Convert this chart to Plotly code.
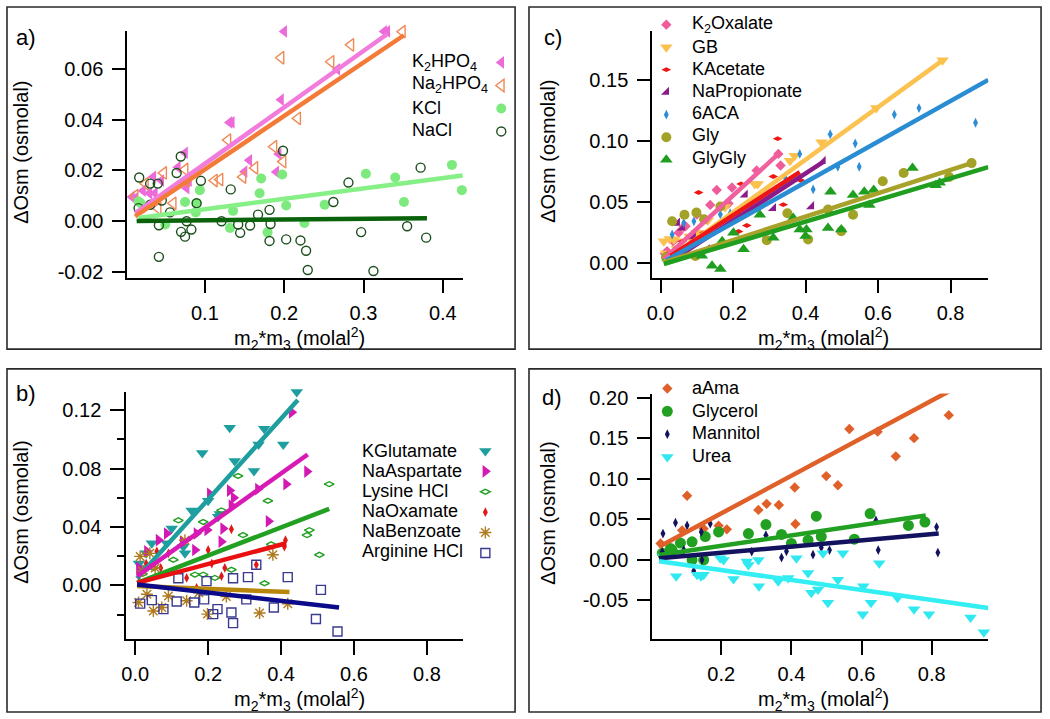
import plotly.graph_objects as go

W, H = 1050, 719
FONT = "Liberation Sans, Arial, Helvetica, sans-serif"

# ---------------- Panel a data ----------------
K2HPO4_x = [0.008, 0.012, 0.022, 0.030, 0.035, 0.037, 0.045, 0.066, 0.075, 0.077, 0.080, 0.131, 0.134, 0.150, 0.156, 0.190, 0.193, 0.196, 0.200, 0.267, 0.326, 0.330]
K2HPO4_y = [0.0095, 0.009, 0.012, 0.011, 0.0175, 0.011, 0.016, 0.0213, 0.027, 0.013, 0.016, 0.039, 0.039, 0.0195, 0.024, 0.0194, 0.0265, 0.048, 0.075, 0.060, 0.075, 0.075]
Na2HPO4_x = [0.012, 0.025, 0.041, 0.048, 0.060, 0.075, 0.077, 0.112, 0.119, 0.129, 0.148, 0.163, 0.187, 0.1985, 0.196, 0.217, 0.259, 0.284, 0.349]
Na2HPO4_y = [0.010, 0.0148, 0.005, 0.019, 0.007, 0.0204, 0.016, 0.016, 0.0164, 0.032, 0.0174, 0.021, 0.0294, 0.0235, 0.0646, 0.0406, 0.063, 0.0697, 0.0749]
KCl_x = [0.0164, 0.019, 0.050, 0.075, 0.0885, 0.0896, 0.0937, 0.1317, 0.1355, 0.169, 0.171, 0.179, 0.1975, 0.2025, 0.2255, 0.251, 0.303, 0.340, 0.351, 0.4115, 0.424]
KCl_y = [0.0077, 0.007, -0.0014, 0.0075, 0.0034, 0.007, 0.0122, -0.0028, 0.0040, 0.011, 0.0168, -0.0045, 0.0184, 0.0061, -0.0008, 0.0064, 0.0187, 0.0172, 0.0075, 0.0222, 0.0122]
NaCl_x = [0.0164, 0.0172, 0.031, 0.031, 0.0406, 0.042, 0.042, 0.0457, 0.056, 0.0644, 0.0696, 0.070, 0.075, 0.077, 0.083, 0.0896, 0.095, 0.121, 0.1326, 0.142, 0.1445, 0.157, 0.167, 0.1815, 0.1815, 0.1828, 0.1985, 0.2025, 0.2205, 0.2276, 0.2297, 0.262, 0.281, 0.297, 0.3125, 0.355, 0.372, 0.379]
NaCl_y = [0.0051, 0.0172, 0.0148, 0.0064, 0.0148, -0.0017, -0.0142, 0.0081, 0.0034, 0.019, 0.0255, -0.0043, -0.0062, -0.0001, -0.0034, 0.007, 0.0159, -0.0001, 0.0125, -0.0014, -0.0047, -0.0018, 0.0025, 0.0044, -0.0079, -0.0012, 0.0278, -0.0073, -0.0077, -0.0118, -0.0194, 0.0075, 0.0152, -0.0044, -0.0198, -0.0021, 0.0211, -0.0066]
K2HPO4_fit_x = [0.012, 0.330]
K2HPO4_fit_y = [0.003, 0.074]
Na2HPO4_fit_x = [0.012, 0.351]
Na2HPO4_fit_y = [0.0018, 0.0735]
KCl_fit_x = [0.016, 0.425]
KCl_fit_y = [0.0012, 0.018]
NaCl_fit_x = [0.014, 0.380]
NaCl_fit_y = [0.0, 0.0011]

# ---------------- Panel c data ----------------
K2Oxalate_x = [0.012, 0.018, 0.035, 0.050, 0.064, 0.069, 0.100, 0.137, 0.155, 0.1875, 0.197, 0.265, 0.325, 0.331]
K2Oxalate_y = [0.008, 0.010, 0.018, 0.025, 0.030, 0.0304, 0.040, 0.0478, 0.060, 0.049, 0.062, 0.076, 0.0895, 0.080]
GB_x = [0.009, 0.015, 0.025, 0.037, 0.045, 0.060, 0.080, 0.100, 0.130, 0.178, 0.215, 0.260, 0.268, 0.357, 0.370, 0.444, 0.595, 0.778]
GB_y = [0.018, 0.008, 0.020, 0.0196, 0.012, 0.018, 0.022, 0.025, 0.035, 0.046, 0.0385, 0.065, 0.065, 0.084, 0.088, 0.099, 0.127, 0.166]
KAcetate_x = [0.020, 0.060, 0.105, 0.120, 0.174, 0.215, 0.222, 0.238, 0.311, 0.323, 0.3385, 0.386]
KAcetate_y = [0.008, 0.018, 0.058, 0.025, 0.017, 0.026, 0.065, 0.031, 0.071, 0.102, 0.048, 0.068]
NaPropionate_x = [0.030, 0.046, 0.060, 0.090, 0.128, 0.233, 0.311, 0.416, 0.448]
NaPropionate_y = [0.008, 0.033, 0.029, 0.022, 0.0115, 0.056, 0.045, 0.0465, 0.0835]
ACA_x = [0.020, 0.032, 0.064, 0.092, 0.120, 0.165, 0.192, 0.343, 0.384, 0.421, 0.468, 0.489, 0.537, 0.548, 0.645, 0.713, 0.869]
ACA_y = [0.005, 0.0236, 0.033, 0.0344, 0.036, 0.040, 0.041, 0.0707, 0.0895, 0.0605, 0.1056, 0.079, 0.098, 0.079, 0.1217, 0.127, 0.115]
Gly_x = [0.015, 0.032, 0.066, 0.096, 0.099, 0.120, 0.165, 0.293, 0.350, 0.407, 0.462, 0.4985, 0.531, 0.613, 0.6705, 0.796, 0.858]
Gly_y = [0.005, 0.0344, 0.0397, 0.006, 0.0416, 0.036, 0.0465, 0.019, 0.041, 0.0196, 0.044, 0.0263, 0.0397, 0.0671, 0.0739, 0.0707, 0.082]
GlyGly_x = [0.020, 0.060, 0.114, 0.142, 0.165, 0.170, 0.201, 0.229, 0.274, 0.311, 0.366, 0.384, 0.400, 0.4025, 0.462, 0.469, 0.4985, 0.531, 0.562, 0.576, 0.588, 0.695, 0.759, 0.770]
GlyGly_y = [0.004, 0.010, 0.0062, -0.0019, -0.0046, 0.018, 0.025, 0.0115, 0.0397, 0.021, 0.037, 0.0277, 0.0223, 0.0277, 0.029, 0.0585, 0.0277, 0.056, 0.0586, 0.0478, 0.060, 0.078, 0.0639, 0.066]
K2Oxalate_fit_x = [0.009, 0.325]
K2Oxalate_fit_y = [0.0035, 0.0895]
GB_fit_x = [0.009, 0.778]
GB_fit_y = [0.0008, 0.166]
KAcetate_fit_x = [0.027, 0.384]
KAcetate_fit_y = [0.006, 0.0747]
NaPropionate_fit_x = [0.037, 0.448]
NaPropionate_fit_y = [0.0035, 0.0828]
ACA_fit_x = [0.014, 0.904]
ACA_fit_y = [0.0022, 0.150]
Gly_fit_x = [0.009, 0.858]
Gly_fit_y = [0.0008, 0.082]
GlyGly_fit_x = [0.009, 0.904]
GlyGly_fit_y = [-0.0005, 0.0787]

# ---------------- Panel b data ----------------
KGlutamate_x = [0.010, 0.020, 0.030, 0.0455, 0.0864, 0.100, 0.1319, 0.1364, 0.1547, 0.1837, 0.200, 0.2274, 0.2319, 0.2592, 0.2729, 0.3256, 0.3383, 0.3538, 0.406, 0.443]
KGlutamate_y = [0.015, 0.012, 0.022, 0.029, 0.0289, 0.039, 0.0266, 0.022, 0.0514, 0.0908, 0.058, 0.047, 0.049, 0.108, 0.0852, 0.0784, 0.0965, 0.1073, 0.0965, 0.1325]
NaAspartate_x = [0.010, 0.032, 0.064, 0.0864, 0.130, 0.1637, 0.168, 0.1974, 0.2046, 0.236, 0.241, 0.2592, 0.2638, 0.270, 0.3365, 0.3656, 0.4138, 0.4292, 0.4711]
NaAspartate_y = [0.012, 0.0233, 0.031, 0.0356, 0.030, 0.0243, 0.0356, 0.038, 0.0627, 0.030, 0.039, 0.065, 0.0547, 0.060, 0.066, 0.044, 0.0694, 0.1186, 0.078]
Lysine_x = [0.020, 0.050, 0.0728, 0.1046, 0.1182, 0.1637, 0.1864, 0.1864, 0.2183, 0.2365, 0.2638, 0.2819, 0.2956, 0.3547, 0.3638, 0.3729, 0.4711, 0.4775, 0.505, 0.532]
Lysine_y = [0.008, 0.012, 0.0074, 0.0176, 0.0446, 0.0074, 0.0074, 0.0435, 0.0052, 0.0514, 0.0108, 0.075, 0.0345, 0.0015, 0.058, 0.0282, 0.0345, 0.0379, 0.021, 0.0694]
NaOxamate_x = [0.010, 0.030, 0.0592, 0.070, 0.091, 0.141, 0.1683, 0.200, 0.210, 0.2365, 0.2456, 0.2638, 0.332, 0.4092, 0.412]
NaOxamate_y = [0.006, 0.015, 0.0233, 0.012, 0.022, 0.0052, -0.0016, 0.0243, 0.015, 0.0064, 0.012, 0.0385, 0.0142, 0.0266, 0.031]
NaBenzoate_x = [0.009, 0.0136, 0.020, 0.032, 0.040, 0.0496, 0.0546, 0.0728, 0.091, 0.1364, 0.141, 0.1746, 0.198, 0.250, 0.341, 0.3774, 0.4183]
NaBenzoate_y = [-0.0117, 0.0199, 0.010, -0.006, 0.022, -0.0175, 0.012, -0.0151, -0.0072, 0.031, -0.0105, -0.005, -0.0196, -0.0075, -0.0188, 0.021, -0.0125]
Arginine_x = [0.0136, 0.0455, 0.0773, 0.1137, 0.1182, 0.1619, 0.189, 0.1955, 0.2138, 0.2256, 0.2638, 0.2683, 0.2683, 0.3046, 0.3092, 0.332, 0.3802, 0.4183, 0.4956, 0.5093, 0.5548]
Arginine_y = [-0.0124, -0.010, -0.0162, -0.011, 0.005, -0.0117, -0.0095, 0.003, -0.0196, -0.0162, -0.0185, -0.0258, 0.005, -0.0095, 0.0057, 0.0142, -0.0151, 0.0057, -0.023, -0.003, -0.0315]
KGlutamate_fit_x = [0.005, 0.446]
KGlutamate_fit_y = [0.005, 0.127]
NaAspartate_fit_x = [0.005, 0.473]
NaAspartate_fit_y = [0.0064, 0.0897]
Lysine_fit_x = [0.005, 0.532]
Lysine_fit_y = [0.0018, 0.0525]
NaOxamate_fit_x = [0.005, 0.414]
NaOxamate_fit_y = [0.0018, 0.0289]
NaBenzoate_fit_x = [0.005, 0.423]
NaBenzoate_fit_y = [-0.0004, -0.0045]
Arginine_fit_x = [0.005, 0.559]
Arginine_fit_y = [0.0007, -0.0151]

# ---------------- Panel d data ----------------
aAma_x = [0.0272, 0.0887, 0.1028, 0.150, 0.1926, 0.2161, 0.306, 0.3295, 0.3643, 0.4096, 0.4116, 0.4994, 0.5326, 0.5654, 0.6459, 0.6977, 0.7496, 0.8487]
aAma_y = [0.0199, 0.0362, 0.079, 0.0383, 0.042, 0.0374, 0.0615, 0.069, 0.0676, 0.0892, 0.044, 0.1034, 0.092, 0.1617, 0.1585, 0.1279, 0.1504, 0.1789]
Glycerol_x = [0.032, 0.0555, 0.0603, 0.0839, 0.117, 0.117, 0.150, 0.1547, 0.1926, 0.2776, 0.3275, 0.372, 0.400, 0.4476, 0.4711, 0.4853, 0.5796, 0.6245, 0.7337, 0.7807]
Glycerol_y = [0.0077, 0.0138, 0.0117, 0.0205, 0.022, -0.0005, -0.0005, 0.0285, 0.0342, 0.0322, 0.0433, 0.0312, 0.020, 0.024, 0.0538, 0.0285, 0.0252, 0.057, 0.0423, 0.0464]
Mannitol_x = [0.032, 0.034, 0.0697, 0.0935, 0.1028, 0.1218, 0.1433, 0.1453, 0.1688, 0.287, 0.3275, 0.372, 0.3861, 0.4617, 0.4853, 0.5088, 0.6411, 0.6476, 0.8139, 0.8176]
Mannitol_y = [0.0098, 0.0322, 0.0456, 0.0117, 0.0423, -0.0143, 0.0342, -0.0005, 0.0444, 0.0098, 0.0301, 0.0024, 0.0102, 0.006, 0.0148, 0.0117, 0.0484, 0.0117, 0.0403, 0.0086]
Urea_x = [0.035, 0.0717, 0.1312, 0.1425, 0.150, 0.1972, 0.2068, 0.2351, 0.2728, 0.2776, 0.306, 0.3077, 0.3626, 0.3909, 0.4145, 0.4476, 0.4569, 0.476, 0.4901, 0.5042, 0.5326, 0.5467, 0.6034, 0.6051, 0.6269, 0.6505, 0.7026, 0.7496, 0.7921, 0.9107, 0.9487, 0.9628]
Urea_y = [0.004, -0.0208, -0.0188, -0.0208, -0.0188, 0.0016, -0.0005, -0.024, -0.0025, -0.0066, -0.0005, -0.033, -0.0269, -0.0229, 0.0016, -0.0167, -0.0412, -0.0372, 0.0077, -0.0534, -0.025, 0.0077, -0.0677, -0.033, -0.0534, -0.0045, -0.0473, -0.0616, -0.0677, -0.0717, -0.0901, -0.0616]
aAma_fit_x = [0.023, 0.8535]
aAma_fit_y = [0.016, 0.2094]
Glycerol_fit_x = [0.023, 0.783]
Glycerol_fit_y = [0.0056, 0.0545]
Mannitol_fit_x = [0.023, 0.820]
Mannitol_fit_y = [0.0016, 0.0322]
Urea_fit_x = [0.023, 0.961]
Urea_fit_y = [-0.002, -0.060]

# ---------------- Tick labels ----------------
a_xtickvals = [0.1, 0.2, 0.3, 0.4]
a_xticktext = ["0.1", "0.2", "0.3", "0.4"]
a_ytickvals = [-0.02, 0.0, 0.02, 0.04, 0.06]
a_yticktext = ["-0.02", "0.00", "0.02", "0.04", "0.06"]
c_xtickvals = [0.0, 0.2, 0.4, 0.6, 0.8]
c_xticktext = ["0.0", "0.2", "0.4", "0.6", "0.8"]
c_ytickvals = [0.0, 0.05, 0.10, 0.15]
c_yticktext = ["0.00", "0.05", "0.10", "0.15"]
b_xtickvals = [0.0, 0.2, 0.4, 0.6, 0.8]
b_xticktext = ["0.0", "0.2", "0.4", "0.6", "0.8"]
b_ytickvals = [0.0, 0.04, 0.08, 0.12]
b_yticktext = ["0.00", "0.04", "0.08", "0.12"]
b_yminorvals = [-0.02, 0.02, 0.06, 0.10]
d_xtickvals = [0.2, 0.4, 0.6, 0.8]
d_xticktext = ["0.2", "0.4", "0.6", "0.8"]
d_ytickvals = [-0.05, 0.0, 0.05, 0.10, 0.15, 0.20]
d_yticktext = ["-0.05", "0.00", "0.05", "0.10", "0.15", "0.20"]

X_TITLE = "m<sub>2</sub>*m<sub>3</sub> (molal<sup>2</sup>)"
Y_TITLE = "\u0394Osm (osmolal)"


def X(p):
    return p / W


def Y(p):
    return 1 - p / H


fig = go.Figure()

# panel key -> (xaxis, yaxis, legend)
PANELS = {
    "a": ("x", "y", "legend"),
    "c": ("x2", "y2", "legend2"),
    "b": ("x3", "y3", "legend3"),
    "d": ("x4", "y4", "legend4"),
}

# series: (panel, name, label_html, xs, ys, color, symbol, size, fit_x, fit_y, line_color)
SERIES = [
    ("a", "K2HPO4", "K<sub>2</sub>HPO<sub>4</sub>", K2HPO4_x, K2HPO4_y, "#EC6BD8", "triangle-left", 11, K2HPO4_fit_x, K2HPO4_fit_y, "#F27CDB"),
    ("a", "Na2HPO4", "Na<sub>2</sub>HPO<sub>4</sub>", Na2HPO4_x, Na2HPO4_y, "#EE8A55", "triangle-left-open", 11, Na2HPO4_fit_x, Na2HPO4_fit_y, "#F47A38"),
    ("a", "KCl", "KCl", KCl_x, KCl_y, "#7DEA7D", "circle", 10, KCl_fit_x, KCl_fit_y, "#86F086"),
    ("a", "NaCl", "NaCl", NaCl_x, NaCl_y, "#1D4F1D", "circle-open", 9, NaCl_fit_x, NaCl_fit_y, "#0A620A"),
    ("c", "K2Oxalate", "K<sub>2</sub>Oxalate", K2Oxalate_x, K2Oxalate_y, "#EE5C9A", "diamond", 8, K2Oxalate_fit_x, K2Oxalate_fit_y, "#F0609E"),
    ("c", "GB", "GB", GB_x, GB_y, "#FBC14E", "triangle-down", 11, GB_fit_x, GB_fit_y, "#FBC24F"),
    ("c", "KAcetate", "KAcetate", KAcetate_x, KAcetate_y, "#EE1515", "diamond-wide", 7, KAcetate_fit_x, KAcetate_fit_y, "#EE1515"),
    ("c", "NaPropionate", "NaPropionate", NaPropionate_x, NaPropionate_y, "#8A1C8A", "triangle-se", 9, NaPropionate_fit_x, NaPropionate_fit_y, "#8A1C8A"),
    ("c", "6ACA", "6ACA", ACA_x, ACA_y, "#2D8ED5", "diamond-tall", 7, ACA_fit_x, ACA_fit_y, "#2A8CD2"),
    ("c", "Gly", "Gly", Gly_x, Gly_y, "#A2A226", "circle", 10, Gly_fit_x, Gly_fit_y, "#A8A22A"),
    ("c", "GlyGly", "GlyGly", GlyGly_x, GlyGly_y, "#1F9E1F", "triangle-up", 11, GlyGly_fit_x, GlyGly_fit_y, "#1F9E1F"),
    ("b", "KGlutamate", "KGlutamate", KGlutamate_x, KGlutamate_y, "#1E9E9E", "triangle-down", 11, KGlutamate_fit_x, KGlutamate_fit_y, "#1E9E9E"),
    ("b", "NaAspartate", "NaAspartate", NaAspartate_x, NaAspartate_y, "#D21AB2", "triangle-right", 11, NaAspartate_fit_x, NaAspartate_fit_y, "#D81AB4"),
    ("b", "Lysine HCl", "Lysine HCl", Lysine_x, Lysine_y, "#22A022", "diamond-wide-open", 7, Lysine_fit_x, Lysine_fit_y, "#22A022"),
    ("b", "NaOxamate", "NaOxamate", NaOxamate_x, NaOxamate_y, "#E01818", "diamond-tall", 7, NaOxamate_fit_x, NaOxamate_fit_y, "#E81010"),
    ("b", "NaBenzoate", "NaBenzoate", NaBenzoate_x, NaBenzoate_y, "#B07A1E", "asterisk-open", 10, NaBenzoate_fit_x, NaBenzoate_fit_y, "#B8860B"),
    ("b", "Arginine HCl", "Arginine HCl", Arginine_x, Arginine_y, "#3A3A90", "square-open", 9, Arginine_fit_x, Arginine_fit_y, "#0A0A8A"),
    ("d", "aAma", "aAma", aAma_x, aAma_y, "#E0602A", "diamond", 8, aAma_fit_x, aAma_fit_y, "#E0602A"),
    ("d", "Glycerol", "Glycerol", Glycerol_x, Glycerol_y, "#22A022", "circle", 11, Glycerol_fit_x, Glycerol_fit_y, "#22A022"),
    ("d", "Mannitol", "Mannitol", Mannitol_x, Mannitol_y, "#12125E", "diamond-tall", 7, Mannitol_fit_x, Mannitol_fit_y, "#12125E"),
    ("d", "Urea", "Urea", Urea_x, Urea_y, "#30E8F0", "triangle-down", 11, Urea_fit_x, Urea_fit_y, "#33EEF2"),
]

# markers first (legend symbols come from these traces; their labels are drawn as
# annotations so the text can sit on either side of the symbol as in the original)
for panel, name, label, xs, ys, color, symbol, size, fx, fy, lc in SERIES:
    xa, ya, lg = PANELS[panel]
    is_open = symbol.endswith("-open")
    fig.add_trace(go.Scatter(
        x=xs, y=ys, mode="markers", name=" ", legend=lg, legendgroup=name,
        meta=name, hovertemplate=name + ": %{x}, %{y}<extra></extra>",
        xaxis=xa, yaxis=ya, cliponaxis=False,
        marker=dict(symbol=symbol, size=size, color=color,
                    line=dict(color=color, width=1.4 if is_open else 0)),
    ))

# fitted lines on top
for panel, name, label, xs, ys, color, symbol, size, fx, fy, lc in SERIES:
    xa, ya, lg = PANELS[panel]
    fig.add_trace(go.Scatter(
        x=fx, y=fy, mode="lines", showlegend=False, name=name + " fit",
        xaxis=xa, yaxis=ya, line=dict(color=lc, width=4.5),
    ))

tickfont = dict(family=FONT, size=20, color="black")
base = dict(showline=True, linecolor="black", linewidth=2, ticks="outside",
            tickcolor="black", tickwidth=2, ticklen=13, showgrid=False,
            zeroline=False, tickfont=tickfont, mirror=False, tickmode="array",
            ticklabelstandoff=5)
xbase = dict(base, ticklabelstandoff=3)

layout = dict(
    width=W, height=H, autosize=False,
    margin=dict(l=0, r=0, t=0, b=0),
    paper_bgcolor="white", plot_bgcolor="white",
    font=dict(family=FONT, size=20, color="black"),
    # panel a
    xaxis=dict(xbase, domain=[X(122), X(460)], range=[0.0022, 0.4259], anchor="y",
               tickvals=a_xtickvals, ticktext=a_xticktext),
    yaxis=dict(base, domain=[Y(276), Y(25)], range=[-0.02263, 0.07532], anchor="x",
               tickvals=a_ytickvals, ticktext=a_yticktext),
    # panel c
    xaxis2=dict(xbase, domain=[X(650), X(988)], range=[-0.0228, 0.9043], anchor="y2",
                tickvals=c_xtickvals, ticktext=c_xticktext),
    yaxis2=dict(base, domain=[Y(276), Y(25)], range=[-0.0121, 0.1903], anchor="x2",
                tickvals=c_ytickvals, ticktext=c_yticktext),
    # panel b
    xaxis3=dict(xbase, domain=[X(121), X(460)], range=[-0.0245, 0.900], anchor="y3",
                tickvals=b_xtickvals, ticktext=b_xticktext, ticklen=14,
                ticklabelstandoff=2),
    yaxis3=dict(base, domain=[Y(642), Y(391)], range=[-0.0367, 0.1328], anchor="x3",
                tickvals=b_ytickvals, ticktext=b_yticktext, ticklen=14,
                minor=dict(tickmode="array", tickvals=b_yminorvals, ticks="outside",
                           ticklen=7, tickwidth=2, tickcolor="black", showgrid=False)),
    # panel d
    xaxis4=dict(xbase, domain=[X(650), X(988)], range=[0.0036, 0.9615], anchor="y4",
                tickvals=d_xtickvals, ticktext=d_xticktext, ticklen=14,
                ticklabelstandoff=2),
    yaxis4=dict(base, domain=[Y(642), Y(393)], range=[-0.0985, 0.2057], anchor="x4",
                tickvals=d_ytickvals, ticktext=d_yticktext),
)


def legend_box(left_px, first_center_px, row_px):
    fs = (row_px - 3) / 1.3
    top = first_center_px - 5 - row_px / 2 - 3
    return dict(x=X(left_px), y=Y(top), xanchor="left", yanchor="top",
                xref="paper", yref="paper", bgcolor="rgba(0,0,0,0)",
                borderwidth=0, tracegroupgap=0, itemsizing="trace",
                font=dict(family=FONT, size=fs, color="black"))


LEG = {
    # panel: (marker column x, first row centre y, row pitch, text x)
    "a": (498, 60, 23.0, 406),
    "c": (664, 21.7, 22.5, 688),
    "b": (482, 454, 20.4, 356),
    "d": (665, 390.7, 22.8, 688),
}
layout["legend"] = legend_box(LEG["a"][0] - 20, LEG["a"][1], LEG["a"][2])
layout["legend2"] = legend_box(LEG["c"][0] - 20, LEG["c"][1], LEG["c"][2])
layout["legend3"] = legend_box(LEG["b"][0] - 20, LEG["b"][1], LEG["b"][2])
layout["legend4"] = legend_box(LEG["d"][0] - 20, LEG["d"][1], LEG["d"][2])

annotations = []
# legend labels
counters = {"a": 0, "b": 0, "c": 0, "d": 0}
for panel, name, label, *_ in SERIES:
    mx, cy, pitch, tx = LEG[panel]
    i = counters[panel]
    counters[panel] += 1
    annotations.append(dict(x=X(tx), y=Y(cy + i * pitch - 3), xref="paper", yref="paper",
                            text=label, showarrow=False, xanchor="left", yanchor="middle",
                            font=dict(family=FONT, size=18, color="black")))

# panel letters
for txt, cx, cy in [("a)", 20, 32), ("c)", 550, 32), ("b)", 20, 393), ("d)", 549, 397)]:
    annotations.append(dict(x=X(cx), y=Y(cy), xref="paper", yref="paper", text=txt,
                            showarrow=False, xanchor="center", yanchor="middle",
                            font=dict(family=FONT, size=22, color="black")))

# axis titles
for cx, cy in [(15, 148), (545, 147), (15, 513), (545, 514)]:
    annotations.append(dict(x=X(cx), y=Y(cy), xref="paper", yref="paper", text=Y_TITLE,
                            textangle=-90, showarrow=False, xanchor="center", yanchor="middle",
                            font=dict(family=FONT, size=20, color="black")))
for cx, cy in [(295, 337), (822, 337), (295, 703), (822, 703)]:
    annotations.append(dict(x=X(cx), y=Y(cy), xref="paper", yref="paper", text=X_TITLE,
                            showarrow=False, xanchor="center", yanchor="middle",
                            font=dict(family=FONT, size=20, color="black")))
layout["annotations"] = annotations

# panel frames
shapes = []
for x0, y0, x1, y1 in [(1, 1, 512, 348), (526, 1, 1041, 348), (1, 368, 512, 716), (526, 368, 1041, 716)]:
    shapes.append(dict(type="rect", xref="paper", yref="paper", x0=X(x0), x1=X(x1),
                       y0=Y(y1), y1=Y(y0), line=dict(color="#2a2a2a", width=1.6),
                       fillcolor="rgba(0,0,0,0)", layer="above"))
layout["shapes"] = shapes

fig.update_layout(**layout)
fig.write_html(
    "out.html",
    config={"displayModeBar": False},
    post_script="document.body.style.margin='0';document.body.style.overflow='hidden';",
)
